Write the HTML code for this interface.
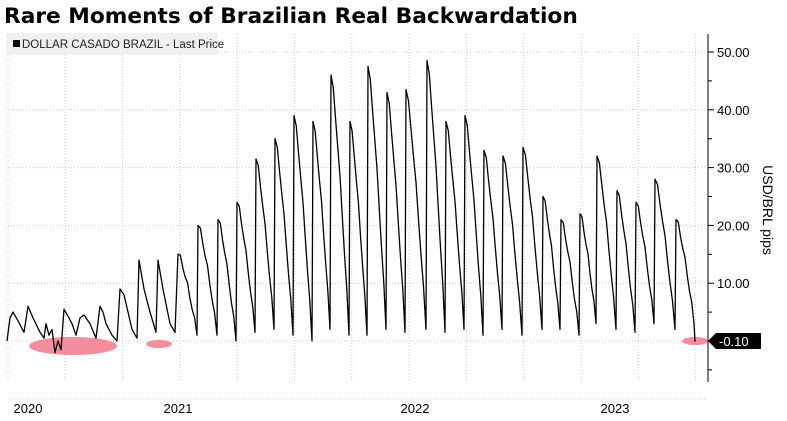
<!DOCTYPE html><html><head><style>
body{margin:0;background:#fff;width:787px;height:416px;overflow:hidden;font-family:"Liberation Sans",sans-serif}
</style></head><body>
<svg width="787" height="416" xmlns="http://www.w3.org/2000/svg" id="s">
<text x="4" y="23" font-family="DejaVu Sans" font-weight="bold" font-size="21.7" fill="#000">Rare Moments of Brazilian Real Backwardation</text>
<g id="grid" stroke="#ccc" stroke-dasharray="1,2" stroke-width="1"></g>
<rect x="6" y="33" width="212" height="22" fill="#f0f0f0"/>
<rect x="13" y="40" width="7" height="7" fill="#000"/>
<text x="22" y="48" font-size="11.5" fill="#222">DOLLAR CASADO BRAZIL - Last Price</text>
<ellipse cx="73" cy="346" rx="44" ry="9" fill="#f07a8c" fill-opacity="0.85"/>
<ellipse cx="159" cy="344" rx="13" ry="4" fill="#f07a8c" fill-opacity="0.85"/>
<ellipse cx="695" cy="341" rx="13" ry="4" fill="#f07a8c" fill-opacity="0.85"/>
<path id="ln" fill="none" stroke="#000" stroke-width="1.3" stroke-linejoin="round"/>
<line x1="708" y1="34" x2="708" y2="382" stroke="#000"/>
<g id="ax" font-size="13" fill="#000"></g>
<path d="M708,341 L716,333 H761 V349 H716 Z" fill="#000"/>
<text x="719" y="346" font-size="13" fill="#fff">-0.10</text>
<text transform="translate(763,210) rotate(90)" font-size="14" text-anchor="middle">USD/BRL pips</text>
<text x="28" y="413" font-size="13" text-anchor="middle">2020</text>
<text x="178" y="413" font-size="13" text-anchor="middle">2021</text>
<text x="415" y="413" font-size="13" text-anchor="middle">2022</text>
<text x="615" y="413" font-size="13" text-anchor="middle">2023</text>
</svg>
<script>
var ns="http://www.w3.org/2000/svg";
function Y(v){return 341-v*5.78;}
var g=document.getElementById('grid'),ax=document.getElementById('ax');
for(var v=-10;v<=50;v+=10){var l=document.createElementNS(ns,'line');l.setAttribute('x1',8);l.setAttribute('x2',706);l.setAttribute('y1',Y(v));l.setAttribute('y2',Y(v));g.appendChild(l);}
for(var x=8;x<706;x+=57.3){var l=document.createElementNS(ns,'line');l.setAttribute('x1',x);l.setAttribute('x2',x);l.setAttribute('y1',34);l.setAttribute('y2',382);g.appendChild(l);}
for(var v=-5;v<=50;v+=5){var t=document.createElementNS(ns,'line');t.setAttribute('x1',708);t.setAttribute('x2',v%10==0?714:712);t.setAttribute('y1',Y(v));t.setAttribute('y2',Y(v));t.setAttribute('stroke','#000');ax.appendChild(t);
if(v%10==0&&v>0){var tx=document.createElementNS(ns,'text');tx.setAttribute('x',717);tx.setAttribute('y',Y(v)+5);tx.textContent=v.toFixed(2);ax.appendChild(tx);}}
var pts=[[7,0],[10,4],[13,5],[18,3.5],[24,1.5],[28,6],[33,4],[40,1.5],[44,0.5],[46,3],[49,1],[52,2],[55,-2],[58,0],[61,-1.5],[64,5.5],[69,4],[72,3],[76,1],[80,4],[84,4.5],[90,3],[96,0.5],[100,6],[103,5],[106,3],[112,1],[117,0],[120,9],[124,8],[132,2],[137,0.5],[139,14],[144,9],[150,5],[156,1.5],[158,14],[163,9],[170,3],[175,1.5],[178,15]];
var peaks=[[198,20],[218,21],[237,24],[256,31.5],[275,35],[294,39],[313,38],[331,46],[350,38],[368,47.5],[387,43],[406,43.5],[427,48.5],[446,38],[465,39],[484,33],[503,32],[523,33.5],[543,25],[561,21],[580,22],[597,32],[617,26],[636,24],[655,28],[676,21]];
var prev=pts[pts.length-1];
function decay(a,troughX,trough){for(var i=1;i<=8;i++){var f=i/8;var x=a[0]+(troughX-a[0])*f;var v=a[1]-(a[1]-trough)*Math.pow(f,1.3)+(i%3==1&&i<8?0.8:0);pts.push([x,v]);}}
var tr=[1,1,0,1.5,2,1,0,2,1,1,2,1.5,2,1.5,2,1,2,1,2,2,1,3,2,1.5,3,2,3];
for(var k=0;k<peaks.length;k++){decay(prev,peaks[k][0]-1,tr[k]);pts.push(peaks[k]);prev=peaks[k];}
decay(prev,694,3);pts.push([695,-0.1]);
var d='M'+pts.map(function(p){return p[0].toFixed(1)+','+Y(p[1]).toFixed(1)}).join(' L');
document.getElementById('ln').setAttribute('d',d);
</script>
</body></html>
